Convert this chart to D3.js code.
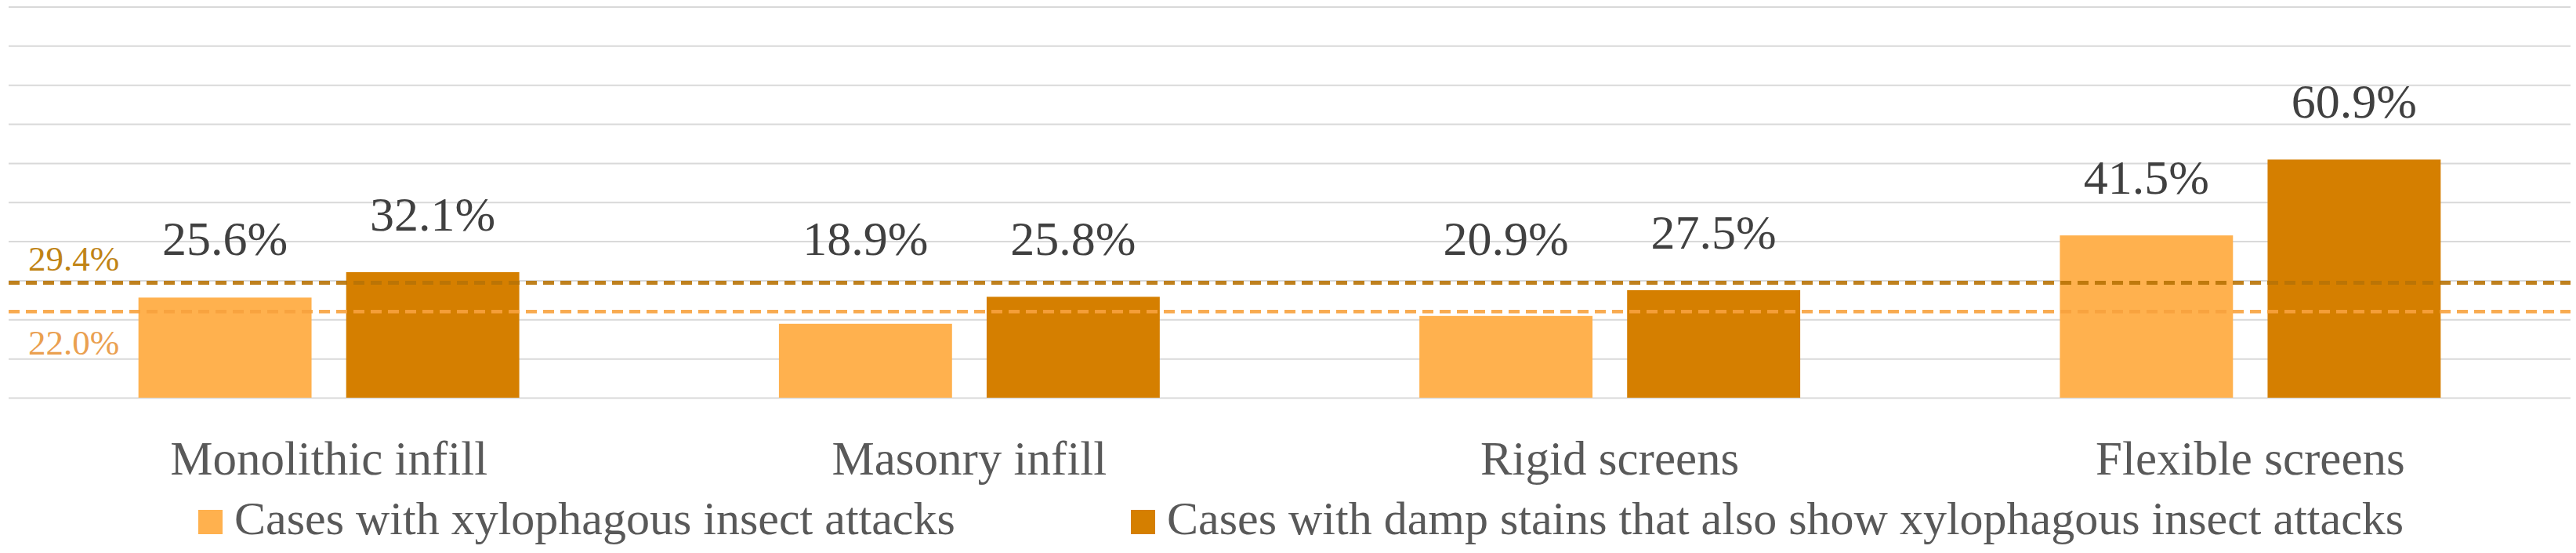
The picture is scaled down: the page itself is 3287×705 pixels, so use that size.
<!DOCTYPE html>
<html>
<head>
<meta charset="utf-8">
<script src="https://cdn.jsdelivr.net/npm/d3@7"></script>
<style>
  html, body { margin: 0; padding: 0; background: #ffffff; }
  svg { display: block; }
  text { font-family: "Liberation Serif", "DejaVu Serif", serif; }
</style>
</head>
<body>
<svg id="chart" width="3287" height="705"></svg>
<script>
// ---- data ----
const categories = ["Monolithic infill", "Masonry infill", "Rigid screens", "Flexible screens"];
const seriesNames = ["Cases with xylophagous insect attacks",
                     "Cases with damp stains that also show xylophagous insect attacks"];
const insectValues = [25.6, 18.9, 20.9, 41.5];
const dampValues   = [32.1, 25.8, 27.5, 60.9];
const averageValues = [22.0, 29.4];          // dashed reference lines (light, dark)
const averageLabels = ["22.0%", "29.4%"];
const yTicks = [0, 10, 20, 30, 40, 50, 60, 70, 80, 90, 100];

// ---- styling ----
const barColors  = ["#FFB14E", "#D57F00"];
const lineColors = ["#F7A23E", "#B87306"];
const avgTextColors = ["#EAA050", "#C08416"];

const W = 3287, H = 705;
const plot = { left: 11, right: 3280, top: 8.5, bottom: 507 };

const svg = d3.select("#chart");

const x0 = d3.scaleBand().domain(categories).range([plot.left, plot.right]).paddingInner(0).paddingOuter(0);
const x1 = d3.scaleBand().domain([0, 1]).range([0, x0.bandwidth()]).paddingInner(1/6).paddingOuter(0.625);
const y = d3.scaleLinear().domain([0, 100]).range([plot.bottom, plot.top]);

// gridlines
const grid = svg.append("g")
  .attr("transform", `translate(${plot.left},0)`)
  .call(d3.axisLeft(y).tickValues(yTicks).tickSize(-(plot.right - plot.left)).tickFormat(""));
grid.select(".domain").remove();
grid.selectAll(".tick line").attr("stroke", "#D9D9D9").attr("stroke-width", 2);

// bars
const rows = categories.map((c, i) => ({ cat: c, vals: [insectValues[i], dampValues[i]] }));
const groups = svg.append("g").selectAll("g").data(rows).join("g")
  .attr("transform", d => `translate(${x0(d.cat)},0)`);
groups.selectAll("rect").data(d => d.vals.map((v, k) => ({ v, k }))).join("rect")
  .attr("x", d => x1(d.k))
  .attr("width", x1.bandwidth())
  .attr("y", d => y(d.v))
  .attr("height", d => y(0) - y(d.v))
  .attr("fill", d => barColors[d.k]);

// dashed average lines
averageValues.forEach((v, k) => {
  svg.append("line")
    .attr("x1", plot.left).attr("x2", plot.right)
    .attr("y1", y(v)).attr("y2", y(v))
    .attr("stroke", lineColors[k])
    .attr("stroke-width", k === 1 ? 5 : 4.5)
    .attr("stroke-opacity", 0.9)
    .attr("stroke-dasharray", "14,8");
});

// average labels
svg.append("text").attr("x", 36).attr("y", y(averageValues[1]) - 15)
  .attr("font-size", 45).attr("fill", avgTextColors[1]).text(averageLabels[1]);
svg.append("text").attr("x", 36).attr("y", y(averageValues[0]) + 55)
  .attr("font-size", 45).attr("fill", avgTextColors[0]).text(averageLabels[0]);

// value labels
const labelCap = y(averageValues[1]) - 35;
groups.selectAll("text.val").data(d => d.vals.map((v, k) => ({ v, k }))).join("text")
  .attr("class", "val")
  .attr("x", d => x1(d.k) + x1.bandwidth() / 2)
  .attr("y", d => Math.min(y(d.v) - 53, labelCap))
  .attr("text-anchor", "middle")
  .attr("font-size", 62)
  .attr("fill", "#404040")
  .text(d => d.v.toFixed(1) + "%");

// category labels
svg.append("g").selectAll("text").data(categories).join("text")
  .attr("x", d => x0(d) + x0.bandwidth() / 2)
  .attr("y", 605)
  .attr("text-anchor", "middle")
  .attr("font-size", 61)
  .attr("fill", "#595959")
  .text(d => d);

// legend
const legendX = [253, 1443];
const leg = svg.append("g").selectAll("g").data(seriesNames).join("g")
  .attr("transform", (d, i) => `translate(${legendX[i]},650)`);
leg.append("rect").attr("width", 31).attr("height", 31).attr("fill", (d, i) => barColors[i]);
leg.append("text").attr("x", 46).attr("y", 31)
  .attr("font-size", 60).attr("fill", "#595959").text(d => d);
</script>
</body>
</html>
